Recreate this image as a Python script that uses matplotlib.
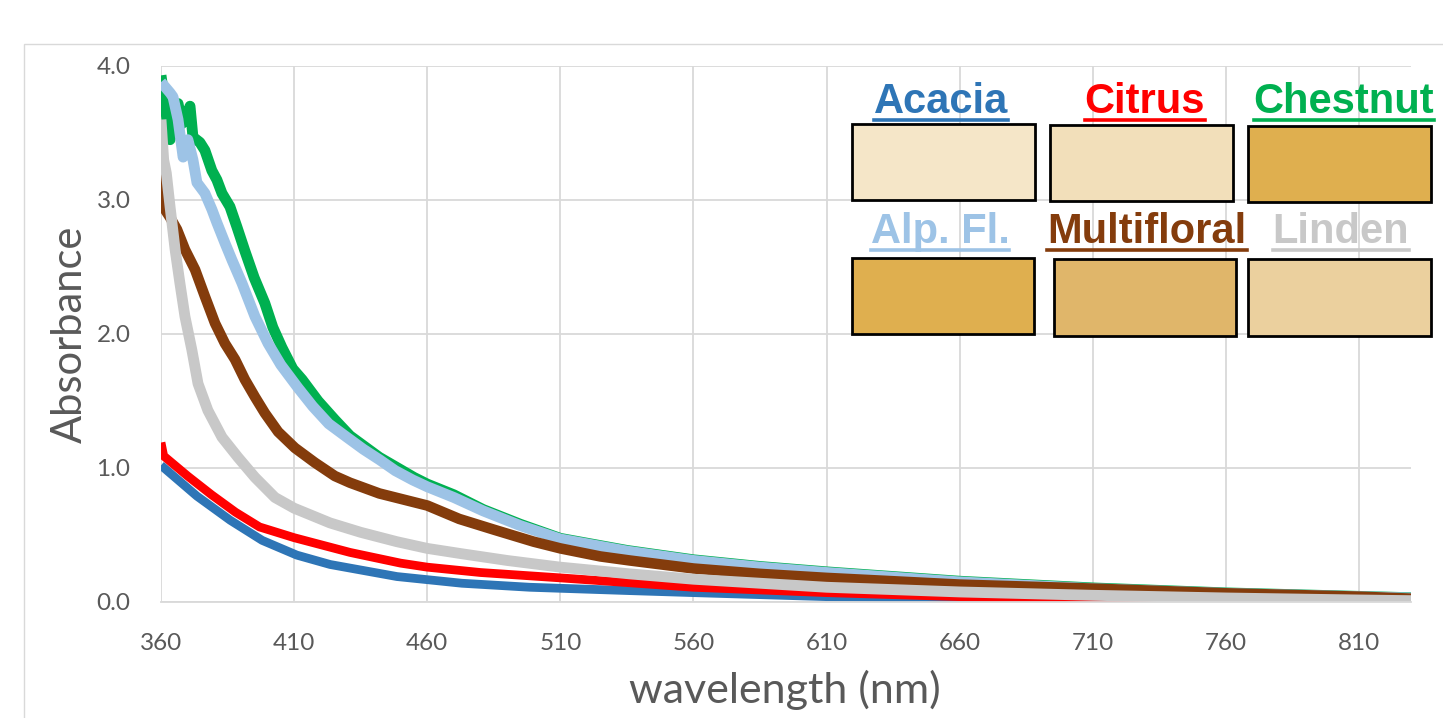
import matplotlib
matplotlib.use("Agg")
import matplotlib.pyplot as plt
from matplotlib.patches import Rectangle
from matplotlib.lines import Line2D

# ---------------- data ----------------
acacia_wl = [360, 373.5, 386, 398, 411, 423.5, 448.6, 473, 498.5, 536, 560, 610, 660, 710, 760, 800, 829.5]
acacia_ab = [1.02, 0.79, 0.61, 0.46, 0.35, 0.28, 0.19, 0.14, 0.11, 0.085, 0.07, 0.04, 0.025, 0.015, 0.01, 0.005, 0.003]

citrus_wl = [360, 361, 370, 379, 388, 397, 410, 431, 450, 460, 480, 510, 560, 610, 660, 700, 726, 760, 829.5]
citrus_ab = [1.19, 1.09, 0.94, 0.80, 0.67, 0.56, 0.48, 0.37, 0.29, 0.26, 0.22, 0.18, 0.11, 0.07, 0.04, 0.015, 0.0, -0.005, -0.01]

chestnut_wl = [360, 361.5, 362.5, 363.4, 364.5, 365.5, 366.4, 367.9, 369.5, 370.9, 372, 374.6, 376.5,
               379.1, 381, 382.9, 385.9, 388.5, 391.5, 395, 399, 402, 405.4, 409.5, 413, 419,
               425.3, 431, 442, 455, 460, 470, 481, 495, 510, 535, 560, 585, 610, 660, 710, 760,
               810, 829.5]
chestnut_ab = [3.93, 3.72, 3.55, 3.45, 3.55, 3.68, 3.72, 3.57, 3.62, 3.70, 3.47, 3.43, 3.37,
               3.22, 3.15, 3.05, 2.95, 2.8, 2.62, 2.42, 2.23, 2.05, 1.9, 1.74, 1.66, 1.5,
               1.36, 1.24, 1.08, 0.93, 0.88, 0.80, 0.69, 0.58, 0.475, 0.385, 0.315, 0.265, 0.225, 0.155, 0.105, 0.068,
               0.042, 0.032]

alpfl_wl = [360, 363.4, 364.5, 366.4, 368.3, 370.1, 372, 373.5, 376.5, 379.1, 381, 384, 386.7,
            390.4, 395.3, 400.2, 405, 411.4, 417, 423, 429.8, 436, 442.2, 448, 454.6, 460,
            470, 481, 495, 510, 535, 560, 585, 610, 660, 710, 760, 810, 829.5]
alpfl_ab = [3.88, 3.8, 3.77, 3.6, 3.32, 3.45, 3.3, 3.13, 3.05, 2.93, 2.83, 2.68, 2.55,
            2.38, 2.13, 1.93, 1.77, 1.6, 1.46, 1.33, 1.23, 1.14, 1.06, 0.98, 0.91, 0.86,
            0.78, 0.68, 0.57, 0.47, 0.38, 0.31, 0.26, 0.22, 0.15, 0.10, 0.065, 0.04, 0.03]

multi_wl = [360, 360.8, 363.4, 366, 369, 372.8, 376.5, 380.3, 384, 387.8, 391.5, 395.3, 399,
            404, 410.3, 417.8, 425.3, 431, 442, 450, 460, 472, 485, 500, 510, 525, 536, 560,
            585, 610, 660, 710, 760, 810, 829.5]
multi_ab = [3.2, 2.95, 2.87, 2.78, 2.63, 2.48, 2.28, 2.08, 1.93, 1.81, 1.66, 1.53, 1.41,
            1.27, 1.15, 1.04, 0.94, 0.89, 0.81, 0.77, 0.72, 0.62, 0.54, 0.45, 0.40, 0.34, 0.31, 0.25,
            0.21, 0.18, 0.13, 0.10, 0.065, 0.04, 0.025]

linden_wl = [360, 361, 362, 363.4, 365.3, 367.1, 369, 371.6, 373.9, 377.6, 382.9, 388.9, 395.3,
             402.8, 410, 423.5, 435, 448.6, 460, 473, 490, 510, 536, 560, 585, 610, 660, 710,
             760, 810, 829.5]
linden_ab = [3.6, 3.3, 3.2, 2.95, 2.63, 2.38, 2.13, 1.88, 1.63, 1.43, 1.23, 1.08, 0.93,
             0.78, 0.70, 0.59, 0.52, 0.45, 0.40, 0.36, 0.31, 0.26, 0.21, 0.17, 0.14, 0.11, 0.075, 0.05,
             0.03, 0.015, 0.01]

series_names = ["Acacia", "Citrus", "Chestnut", "Alp. Fl.", "Multifloral", "Linden"]
series_colors = ["#2E75B6", "#FF0000", "#00B050", "#9DC3E6", "#843C0C", "#C8C8C8"]
honey_colors = ["#F5E6C8", "#F2DFBA", "#DFAF4F", "#DFAF4F", "#E0B66A", "#EBD09E"]

x_ticks = [360, 410, 460, 510, 560, 610, 660, 710, 760, 810]
y_ticks = [0.0, 1.0, 2.0, 3.0, 4.0]
y_tick_labels = ["0.0", "1.0", "2.0", "3.0", "4.0"]

# ---------------- figure ----------------
W, H = 1443, 718
fig = plt.figure(figsize=(W / 100, H / 100), dpi=100)
fig.patch.set_facecolor("white")

def fx(px):
    return px / W

def fy(py):
    return 1 - py / H

# outer chart frame
fig.add_artist(Rectangle((fx(24), fy(760)), fx(1480) - fx(24), fy(44) - fy(760),
                         transform=fig.transFigure, fill=False, edgecolor="#D9D9D9", lw=1.0))

ax = fig.add_axes([fx(161), fy(602), fx(1411) - fx(161), fy(66) - fy(602)])
ax.set_xlim(360, 829.5)
ax.set_ylim(0, 4)

for s in ["top", "right", "left"]:
    ax.spines[s].set_visible(False)
ax.spines["bottom"].set_color("#D9D9D9")
ax.spines["bottom"].set_linewidth(1.3)

ax.set_xticks(x_ticks)
ax.set_xticklabels([str(t) for t in x_ticks])
ax.set_yticks(y_ticks)
ax.set_yticklabels(y_tick_labels)
ax.tick_params(length=0, labelsize=17.5, labelcolor="#595959")
ax.tick_params(axis="y", pad=22)
ax.tick_params(axis="x", pad=22)
for lab in ax.get_xticklabels() + ax.get_yticklabels():
    lab.set_family("Lato")
ax.grid(True, color="#D9D9D9", lw=1.3)
ax.set_axisbelow(True)

ax.set_xlabel("wavelength (nm)", fontsize=31, color="#595959", family="Lato")
ax.set_ylabel("Absorbance", fontsize=30, color="#595959", family="Lato")

data = [(acacia_wl, acacia_ab), (citrus_wl, citrus_ab), (chestnut_wl, chestnut_ab),
        (alpfl_wl, alpfl_ab), (multi_wl, multi_ab), (linden_wl, linden_ab)]
widths = [6.3, 6.3, 7.8, 7.8, 7.6, 7.8]
for (wl, ab), c, lw in zip(data, series_colors, widths):
    ax.plot(wl, ab, color=c, lw=lw, solid_joinstyle="round", solid_capstyle="butt")

# axis title positions
ax.xaxis.set_label_coords((785 - 161) / (1411 - 161), (602 - 690) / (602 - 66))
ax.yaxis.set_label_coords((70 - 161) / (1411 - 161), (602 - 334) / (602 - 66))
ax.xaxis.label.set_va("center")
ax.yaxis.label.set_va("center")

# ---------------- colour legend ----------------
label_cx = [941, 1145, 1344, 940, 1147, 1341]
label_base = [113, 113, 113, 243, 243, 243]
boxes = [(852, 124, 1035, 200), (1050, 125, 1233, 201), (1248, 126, 1431, 202),
         (852, 258, 1034, 334), (1054, 259, 1236, 336), (1248, 259, 1431, 336)]

texts = []
for name, col, cx, by in zip(series_names, series_colors, label_cx, label_base):
    t = fig.text(fx(cx), fy(by), name, color=col, fontsize=30, fontweight="bold",
                 family="Liberation Sans", ha="center", va="baseline")
    texts.append(t)

for (x0, y0, x1, y1), hc in zip(boxes, honey_colors):
    fig.add_artist(Rectangle((fx(x0), fy(y1)), fx(x1) - fx(x0), fy(y0) - fy(y1),
                             transform=fig.transFigure, facecolor=hc, edgecolor="black", lw=2.0))

fig.canvas.draw()
r = fig.canvas.get_renderer()
for t, col, by in zip(texts, series_colors, label_base):
    bb = t.get_window_extent(r)
    yline = fy(by + 6.5)
    fig.add_artist(Line2D([bb.x0 / W, bb.x1 / W], [yline, yline], transform=fig.transFigure,
                          color=col, lw=2.6))

fig.savefig("out.png", dpi=100, facecolor="white")
